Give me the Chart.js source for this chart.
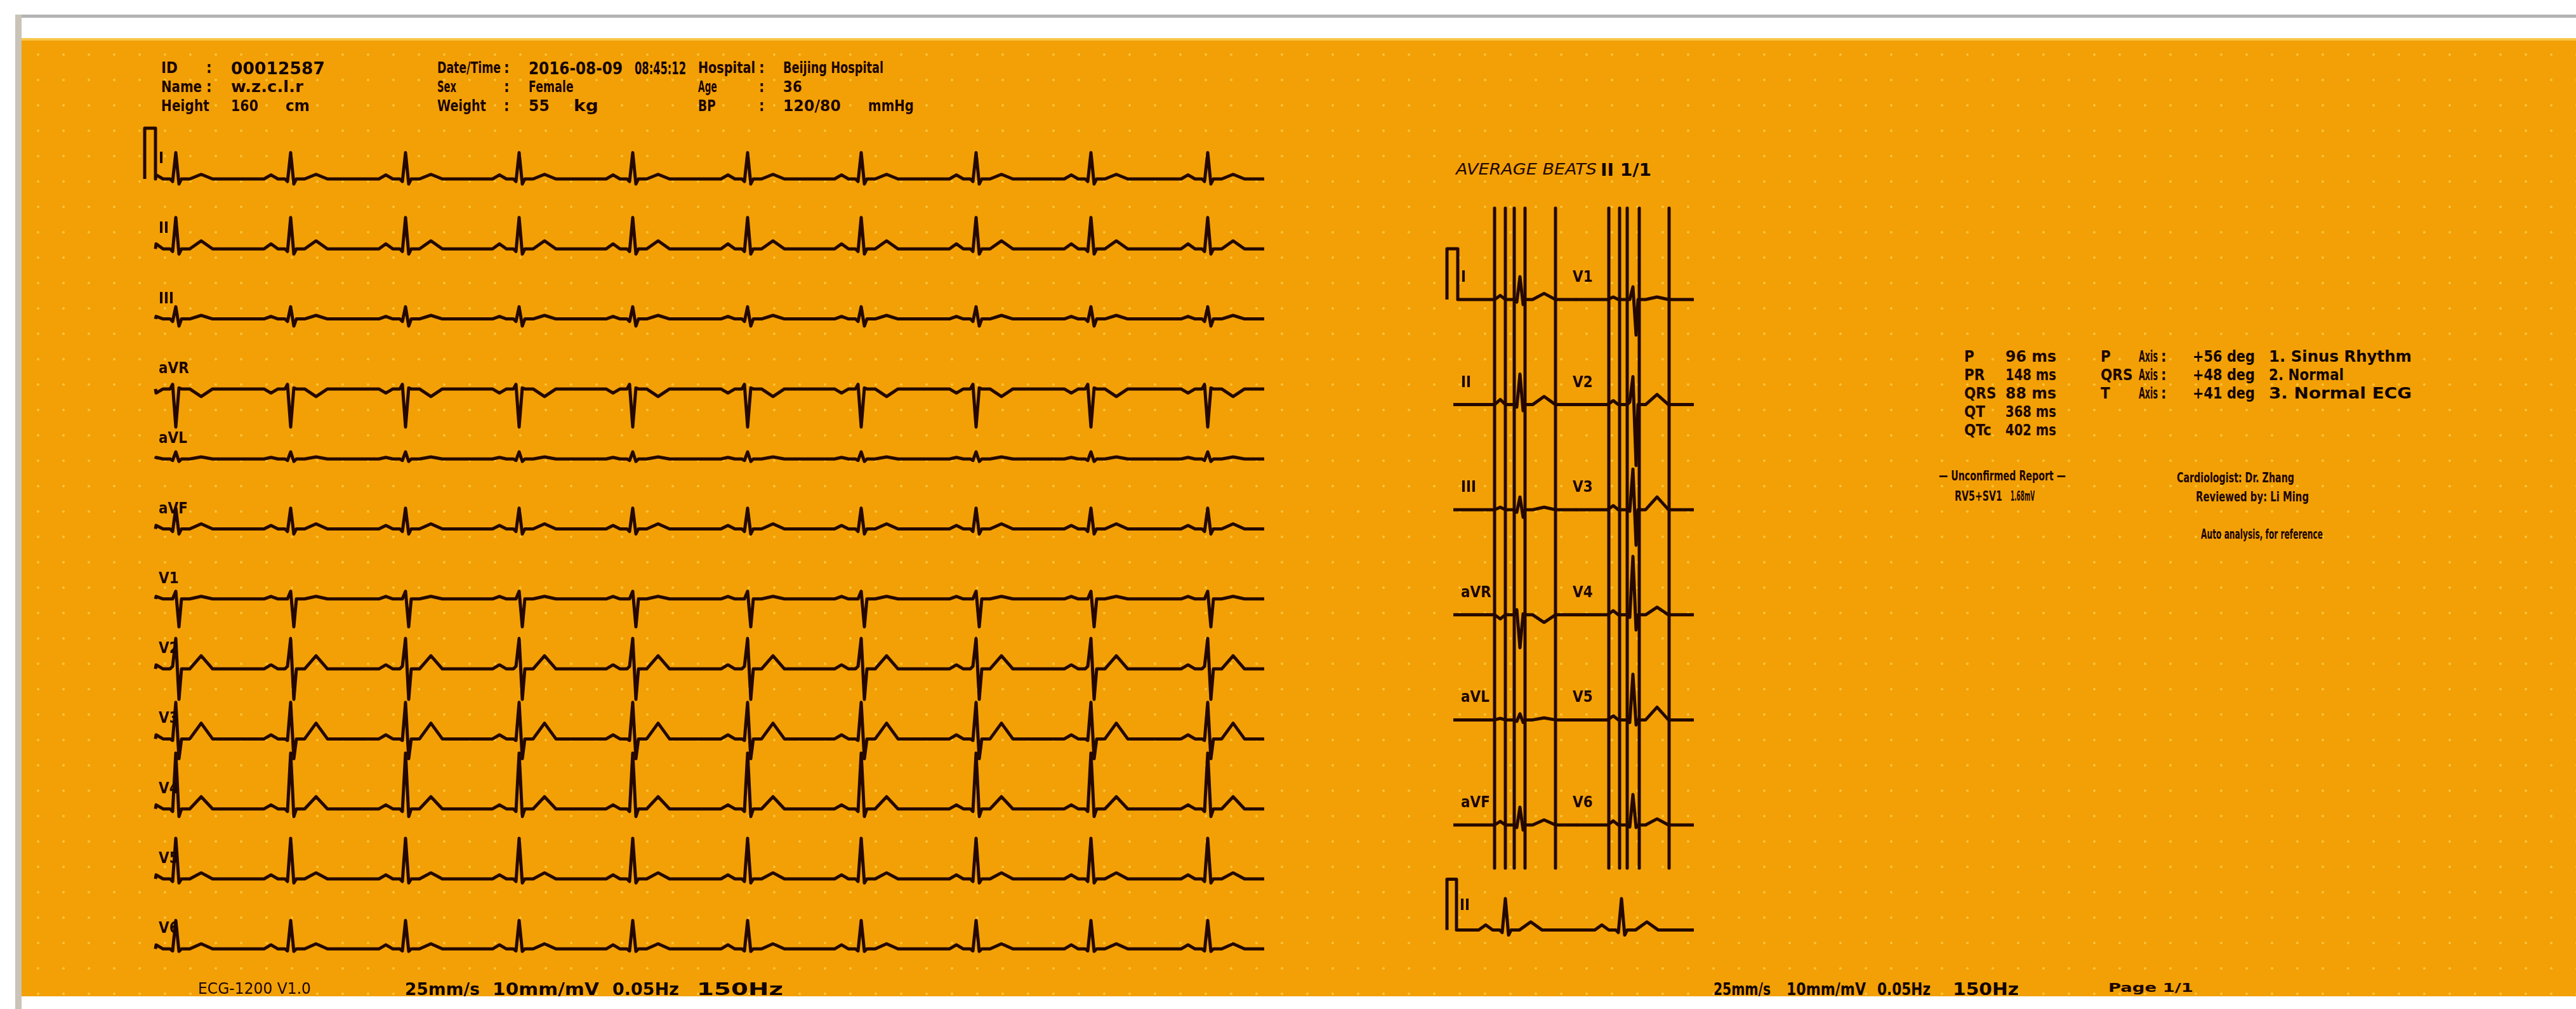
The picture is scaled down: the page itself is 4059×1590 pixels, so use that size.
<!DOCTYPE html>
<html><head><meta charset="utf-8">
<script src="https://cdn.jsdelivr.net/npm/chart.js@4.4.1/dist/chart.umd.min.js"></script>
<style>
html,body{margin:0;padding:0;background:#fff;}
#page{position:relative;width:4059px;height:1590px;overflow:hidden;background:#fff;}
#hline{position:absolute;left:24px;top:23px;width:4035px;height:5px;background:#b3b3b3;}
#vline{position:absolute;left:24px;top:23px;width:10px;height:1567px;background:#c9c3b8;}
#paper{position:absolute;left:34px;top:60px;width:4025px;height:1510px;background-color:#f2a005;
 background-image:radial-gradient(circle, rgba(255,222,100,0.55) 0, rgba(255,222,100,0.55) 1.5px, rgba(255,222,100,0) 2.4px);
 background-size:40px 40px;background-position:6px 2px;border-top:4px solid #f7c64a;box-sizing:border-box;}
canvas{position:absolute;}
.t{position:absolute;white-space:nowrap;color:#1c0500;font-family:"Liberation Sans Narrow","DejaVu Sans Condensed","Liberation Sans",sans-serif;font-weight:bold;line-height:1;transform-origin:0 50%;}
</style></head>
<body><div id="page">
<div id="hline"></div><div id="vline"></div><div id="paper"></div>
<canvas id="strips" width="1820" height="1380" style="left:200px;top:180px"></canvas>
<canvas id="median" width="460" height="1240" style="left:2240px;top:300px"></canvas>
</div>
<script>
// ---------------- DATA ----------------
const leadNames = ['I','II','III','aVR','aVL','aVF','V1','V2','V3','V4','V5','V6'];

// 12-lead rhythm strips (time in s from the calibration pulse, amplitudes in mV)
const stripBeatTimes = [0.245, 1.15, 2.055, 2.95, 3.845, 4.75, 5.645, 6.55, 7.455, 8.375];
const stripStart = 0.085;
const stripEnd = 8.82;
const calTimes  = [0, 0, 0.085, 0.085];
const calValues = [0, 1, 1, 0];
// wave landmarks relative to the R peak (s): P on, P peak, P off, Q on, Q, R, S, J, T on, T peak, T off
const stripOffsets = [-0.21, -0.155, -0.10, -0.045, -0.025, 0, 0.025, 0.045, 0.11, 0.2, 0.29];
const stripP = [0.08, 0.10, 0.05, -0.08, 0.03, 0.07, 0.05, 0.08, 0.08, 0.08, 0.08, 0.08];
const stripQ = [-0.05, -0.05, -0.05, 0.09, -0.03, -0.05, 0.0, 0.05, -0.03, -0.05, -0.05, -0.04];
const stripR = [0.52, 0.62, 0.24, -0.75, 0.14, 0.41, 0.15, 0.60, 0.72, 1.10, 0.80, 0.56];
const stripS = [-0.10, -0.10, -0.14, 0.02, -0.05, -0.10, -0.55, -0.60, -0.39, -0.15, -0.08, -0.05];
const stripT = [0.09, 0.16, 0.07, -0.15, 0.04, 0.10, 0.05, 0.26, 0.31, 0.24, 0.12, 0.10];

// averaged (median) beats panel
const medOffsets = [-0.20, -0.155, -0.115, -0.045, -0.025, 0, 0.025, 0.04, 0.10, 0.19, 0.28];
const medBeatTimes = [0.575, 1.465];          // left column (limb leads), right column (chest leads)
const medColumns = [[0.05, 1.02], [1.015, 1.945]];
const medP = [0.08, 0.10, 0.05, -0.08, 0.03, 0.07, 0.05, 0.08, 0.08, 0.08, 0.08, 0.08];
const medQ = [-0.05, -0.05, -0.05, 0.10, -0.03, -0.05, 0.0, 0.05, -0.03, -0.05, -0.05, -0.04];
const medR = [0.45, 0.60, 0.25, -0.65, 0.12, 0.35, 0.25, 0.55, 0.80, 1.15, 0.90, 0.60];
const medS = [-0.10, -0.12, -0.15, 0.02, -0.05, -0.10, -0.70, -1.20, -0.70, -0.30, -0.10, -0.05];
const medT = [0.12, 0.16, 0.05, -0.15, 0.04, 0.10, 0.05, 0.20, 0.25, 0.15, 0.25, 0.12];
const markerTimes = [0.375, 0.46, 0.53, 0.615, 0.855, 1.275, 1.36, 1.42, 1.515, 1.75];
const rhythmBeatTimes = [0.46, 1.375];
const rhythmCalTimes = [0, 0, 0.075, 0.075];
const rhythmRange = [0.075, 1.945];

// ---------------- LAYOUT ----------------
const PX_PER_S = 200, PX_PER_MV = 80;
const stripBox = {left:200, top:180, w:1820, h:1380, t0px:228, base0:282, rowPx:110.3};
const medBox   = {left:2240, top:300, w:460, h:1240, t0px:2280, base0:472, rowPx:165.6};
const markerTopMv = 1.8, markerBottomMv = -11.2;
const INK = '#240800';

function ranges(b){
  const xmin = (b.left - b.t0px)/PX_PER_S, ymax = (b.base0 - b.top)/PX_PER_MV;
  return {xmin, xmax: xmin + b.w/PX_PER_S, ymax, ymin: ymax - b.h/PX_PER_MV, step: b.rowPx/PX_PER_MV};
}
function shapeVals(i, P, Q, R, S, T){ return [0, P[i], 0, 0, Q[i], R[i], S[i], 0, 0, T[i], 0]; }
function beatPts(times, offs, vals, from, to){
  const out = [];
  times.forEach(tb => offs.forEach((o,k) => { const t = tb + o; if (t > from && t < to) out.push({x:t, y:vals[k]}); }));
  return out;
}
function ds(data, w){ return {data, borderColor:INK, borderWidth:w||5, pointRadius:0, fill:false, tension:0, borderJoinStyle:'round', spanGaps:false}; }
function makeChart(id, datasets, r){
  return new Chart(document.getElementById(id), {type:'line', data:{datasets},
    options:{responsive:false, animation:false, devicePixelRatio:1, events:[], parsing:false,
      layout:{padding:0}, plugins:{legend:{display:false}, tooltip:{enabled:false}},
      scales:{x:{type:'linear', min:r.xmin, max:r.xmax, display:false},
              y:{type:'linear', min:r.ymin, max:r.ymax, display:false}}}});
}

// ---- 12 lead strips ----
const rs = ranges(stripBox);
const stripSets = leadNames.map((name, i) => {
  let pts = [];
  if (i === 0) pts = calTimes.map((t,k) => ({x:t, y:calValues[k]}));
  pts.push({x:stripStart, y:0});
  pts = pts.concat(beatPts(stripBeatTimes, stripOffsets, shapeVals(i, stripP, stripQ, stripR, stripS, stripT), stripStart, stripEnd));
  pts.push({x:stripEnd, y:0});
  return ds(pts.map(p => ({x:p.x, y:p.y - i*rs.step})));
});
makeChart('strips', stripSets, rs);

// ---- median beats ----
const rm = ranges(medBox);
const medSets = [];
for (let row = 0; row < 6; row++){
  [0,1].forEach(col => {
    const li = row + col*6;
    const [from, to] = medColumns[col];
    let pts = [];
    if (row === 0 && col === 0) pts = calTimes.map((t,k) => ({x:t, y:calValues[k]}));
    pts.push({x: (row===0&&col===0) ? 0.085 : from, y:0});
    pts = pts.concat(beatPts([medBeatTimes[col]], medOffsets, shapeVals(li, medP, medQ, medR, medS, medT), from, to));
    pts.push({x:to, y:0});
    medSets.push(ds(pts.map(p => ({x:p.x, y:p.y - row*rm.step}))));
  });
}
{ // rhythm strip (lead II) under the median beats
  let pts = rhythmCalTimes.map((t,k) => ({x:t, y:calValues[k]}));
  pts.push({x:rhythmRange[0], y:0});
  pts = pts.concat(beatPts(rhythmBeatTimes, stripOffsets, shapeVals(1, stripP, stripQ, stripR, stripS, stripT), rhythmRange[0], rhythmRange[1]));
  pts.push({x:rhythmRange[1], y:0});
  medSets.push(ds(pts.map(p => ({x:p.x, y:p.y - 6*rm.step}))));
}
medSets.push(ds(markerTimes.flatMap(t => [{x:t, y:markerTopMv}, {x:t, y:markerBottomMv}, {x:t, y:null}]), 5));
makeChart('median', medSets, rm);

// ---------------- TEXT ----------------
const page = document.getElementById('page');
function txt(s, x, y, w, fs, style){
  const d = document.createElement('div'); d.className = 't'; d.textContent = s;
  fs = fs || 24;
  d.style.left = x + 'px'; d.style.top = (y - fs*0.5) + 'px'; d.style.fontSize = fs + 'px';
  if (style) Object.assign(d.style, style);
  page.appendChild(d);
  if (w){ const a = d.getBoundingClientRect().width; if (a > 0) d.style.transform = 'scaleX(' + (w/a) + ')'; }
}
const heavy = {fontWeight:'900', color:'#120300'};
// header
[['ID',254,107,null],[':',325,107,null],['Name',254,137,64],[':',325,137,null],['Height',254,167,76],
 ['w.z.c.l.r',364,137,114],['160',364,167,43],['cm',450,167,38],
 ['Date/Time',689,107,100],[':',794,107,null],['Sex',689,137,30],[':',794,137,null],['Weight',689,167,77],[':',794,167,null],
 ['Female',833,137,71],['55',833,167,33],['kg',904,167,39],
 ['Hospital',1100,107,90],[':',1196,107,null],['Age',1100,137,30],[':',1196,137,null],['BP',1100,167,28],[':',1196,167,null],
 ['Beijing Hospital',1234,107,158],['36',1234,137,30],['120/80',1234,167,91],['mmHg',1368,167,72]
].forEach(a => txt(a[0], a[1], a[2], a[3], 24));
txt('00012587',364,107,148,27,heavy); txt('2016-08-09',833,107,148,27,heavy); txt('08:45:12',1000,107,81,27,heavy);

// lead labels
leadNames.forEach((n,i) => txt(n, 250, stripBox.base0 + i*stripBox.rowPx - 33, null, 24));
leadNames.slice(0,6).forEach((n,i) => txt(n, 2302, medBox.base0 + i*medBox.rowPx - 36, null, 24));
leadNames.slice(6).forEach((n,i) => txt(n, 2478, medBox.base0 + i*medBox.rowPx - 36, null, 24));
txt('II', 2300, medBox.base0 + 6*medBox.rowPx - 40, null, 24);

// median panel title
txt('AVERAGE BEATS', 2294, 267, 222, 24, {fontWeight:'normal', fontStyle:'italic'});
txt('II 1/1', 2522, 267, 80, 27, heavy);

// measurements
const rowsY = [562, 591, 620, 649, 678];
['P','PR','QRS','QT','QTc'].forEach((s,i) => txt(s, 3095, rowsY[i], null, 24));
['96 ms','148 ms','88 ms','368 ms','402 ms'].forEach((s,i) => txt(s, 3160, rowsY[i], 80, 24));
['P','QRS','T'].forEach((s,i) => txt(s, 3310, rowsY[i], null, 24));
['Axis','Axis','Axis'].forEach((s,i) => txt(s, 3370, rowsY[i], 30, 24));
[':',':',':'].forEach((s,i) => txt(s, 3405, rowsY[i], null, 24));
['+56 deg','+48 deg','+41 deg'].forEach((s,i) => txt(s, 3455, rowsY[i], 98, 24, heavy));
['1. Sinus Rhythm','2. Normal','3. Normal ECG'].forEach((s,i) => txt(s, 3575, rowsY[i], [225,118,225][i], 24, heavy));
txt('\u2014 Unconfirmed Report \u2014', 3055, 750, 200, 22);
txt('RV5+SV1', 3080, 782, 75, 22); txt('1.68mV', 3168, 782, 38, 22);
txt('Cardiologist: Dr. Zhang', 3430, 753, 185, 22);
txt('Reviewed by: Li Ming', 3460, 783, 178, 22);
txt('Auto analysis, for reference', 3468, 842, 192, 22);

// footer
txt('ECG-1200 V1.0', 312, 1558, 178, 24, {fontWeight:'normal'});
[['25mm/s',638,118],['10mm/mV',776,168],['0.05Hz',965,105],['150Hz',1098,136],
 ['25mm/s',2700,90],['10mm/mV',2815,125],['0.05Hz',2958,84],['150Hz',3077,104]].forEach(a => txt(a[0], a[1], 1558, a[2], 27, heavy));
txt('Page 1/1', 3322, 1556, 134, 20);
</script>
</body></html>
